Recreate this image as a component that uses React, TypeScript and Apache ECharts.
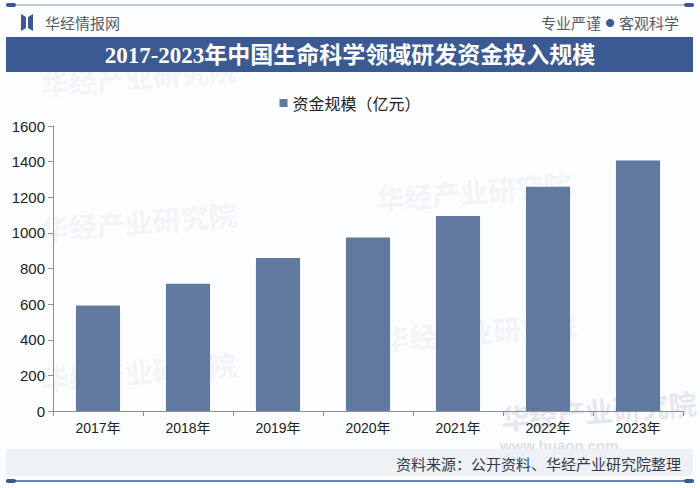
import { useEffect, useRef } from "react";
import * as echarts from "echarts";

const years = ["2017年", "2018年", "2019年", "2020年", "2021年", "2022年", "2023年"];
const funding = [592, 715, 859, 974, 1095, 1259, 1406];
const seriesName = "资金规模（亿元）";
const title = "2017-2023年中国生命科学领域研发资金投入规模";
const source = "资料来源：公开资料、华经产业研究院整理";

const navy = "#3c5a92";
const barColor = "#61799f";

function buildOption(): echarts.EChartsOption {
  const watermark = (x: number, y: number, alpha = 0.18) => ({
    type: "text" as const,
    x,
    y,
    rotation: 0.08,
    silent: true,
    z: 0,
    style: {
      text: "华经产业研究院",
      fill: `rgba(190,198,212,${alpha})`,
      font: "bold 28px 'Noto Sans CJK SC'",
    },
  });
  return {
    animation: false,
    backgroundColor: "#fcfdfe",
    graphic: [
      watermark(40, 70),
      watermark(40, 215),
      watermark(40, 365),
      watermark(375, 185),
      watermark(380, 325),
      watermark(500, 404, 0.4),
      {
        type: "text",
        x: 500,
        y: 438,
        silent: true,
        style: { text: "www.huaon.com", fill: "rgba(170,178,192,0.4)", font: "bold 15px 'Liberation Sans'" },
      },
      // top rule
      { type: "line", shape: { x1: 6, y1: 5, x2: 694, y2: 5 }, style: { stroke: "#8c97a8", lineWidth: 1 } },
      { type: "rect", shape: { x: 6, y: 3, width: 10, height: 4, r: 2 }, style: { fill: navy } },
      { type: "rect", shape: { x: 684, y: 3, width: 10, height: 4, r: 2 }, style: { fill: navy } },
      // logo
      { type: "polygon", shape: { points: [[21, 14], [26, 17], [26, 28], [21, 31]] }, style: { fill: navy } },
      { type: "polygon", shape: { points: [[28, 17], [33, 14], [33, 31], [28, 28]] }, style: { fill: navy } },
      {
        type: "text",
        x: 45,
        y: 22,
        style: { text: "华经情报网", fill: "#555c68", font: "15px 'Noto Sans CJK SC'", verticalAlign: "middle" },
      },
      {
        type: "text",
        x: 679,
        y: 22,
        style: {
          text: "专业严谨{dot|\u2002●\u2002}客观科学",
          fill: "#555c68",
          font: "15px 'Noto Sans CJK SC'",
          align: "right",
          verticalAlign: "middle",
          rich: { dot: { fill: navy, font: "9px 'Noto Sans CJK SC'" } },
        },
      },
      // title band
      { type: "rect", shape: { x: 6, y: 37, width: 687, height: 35 }, style: { fill: navy } },
      {
        type: "text",
        x: 350,
        y: 55,
        style: {
          text: title,
          fill: "#ffffff",
          font: "bold 23px 'Liberation Serif', 'Noto Sans CJK SC'",
          align: "center",
          verticalAlign: "middle",
        },
      },
      // footer band
      { type: "rect", shape: { x: 6, y: 449, width: 687, height: 27 }, style: { fill: "#eef1f6" } },
      {
        type: "text",
        x: 681,
        y: 463,
        style: {
          text: source,
          fill: "#333a46",
          font: "15px 'Noto Sans CJK SC'",
          align: "right",
          verticalAlign: "middle",
        },
      },
      { type: "line", shape: { x1: 6, y1: 481, x2: 694, y2: 481 }, style: { stroke: navy, lineWidth: 1.5 } },
      { type: "rect", shape: { x: 6, y: 479, width: 10, height: 4, r: 2 }, style: { fill: navy } },
      { type: "rect", shape: { x: 684, y: 479, width: 10, height: 4, r: 2 }, style: { fill: navy } },
    ],
    legend: {
      top: 90,
      left: "center",
      itemWidth: 8,
      itemHeight: 8,
      itemGap: 4,
      icon: "rect",
      textStyle: { color: "#222", fontSize: 16, fontFamily: "'Noto Sans CJK SC'" },
      data: [seriesName],
    },
    grid: { left: 53, right: 17, top: 126, bottom: 77 },
    xAxis: {
      type: "category",
      data: years,
      axisLine: { lineStyle: { color: "#8a8f98" } },
      axisTick: { show: true, length: 5, lineStyle: { color: "#8a8f98" } },
      axisLabel: { color: "#222", fontSize: 14, margin: 10, fontFamily: "'Liberation Sans', 'Noto Sans CJK SC'" },
    },
    yAxis: {
      type: "value",
      min: 0,
      max: 1600,
      interval: 200,
      axisLine: { show: true, lineStyle: { color: "#8a8f98" } },
      axisTick: { show: true, length: 5, lineStyle: { color: "#8a8f98" } },
      splitLine: { show: false },
      axisLabel: {
        color: "#222",
        fontSize: 15,
        margin: 8,
        fontFamily: "'Liberation Sans'",
        formatter: (v: number) => String(v),
      },
    },
    series: [
      {
        name: seriesName,
        type: "bar",
        data: funding,
        barWidth: "49%",
        itemStyle: { color: barColor },
      },
    ],
  };
}

export default function App() {
  const ref = useRef<HTMLDivElement | null>(null);

  useEffect(() => {
    document.body.style.margin = "0";
    if (!ref.current) return;
    const chart = echarts.init(ref.current, undefined, { renderer: "svg" });
    chart.setOption(buildOption());
    return () => chart.dispose();
  }, []);

  return <div ref={ref} style={{ width: 700, height: 488 }} />;
}
